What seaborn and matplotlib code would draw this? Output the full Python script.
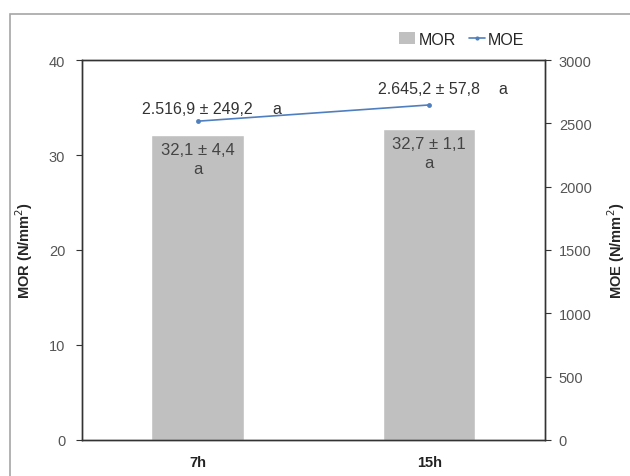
import matplotlib
matplotlib.use('Agg')
import matplotlib.pyplot as plt
import seaborn as sns
import pandas as pd
from matplotlib.patches import Rectangle, Patch
from matplotlib.lines import Line2D

# data
times = ['7h', '15h']
mor = [32.1, 32.7]
mor_labels = ['32,1 ± 4,4\na', '32,7 ± 1,1\na']
moe = [2516.9, 2645.2]
moe_labels = ['2.516,9 ± 249,2', '2.645,2 ± 57,8']
moe_letters = ['a', 'a']

sns.set_style('white')
plt.rcParams['font.family'] = ['Liberation Sans', 'DejaVu Sans']

df = pd.DataFrame({'time': times, 'MOR': mor, 'MOE': moe})

fig = plt.figure(figsize=(6.3, 4.77), dpi=100)
ax = fig.add_axes([0.130, 0.0755, 0.735, 0.7966])

sns.barplot(data=df, x='time', y='MOR', color='#c0c0c0', width=0.4,
            saturation=1, ax=ax)
ax.set_xlim(-0.5, 1.5)
ax.set_ylim(0, 40)
ax.set_yticks([0, 10, 20, 30, 40])
ax.set_xticks([-0.5, 0.5, 1.5])
ax.set_xticklabels(['', '', ''])
for i, t in enumerate(times):
    ax.text(i, -2.3, t, ha='center', va='center', fontsize=10.5, fontweight='bold',
            color='#222222')
ax.set_xlabel('')
ax.set_ylabel('MOR (N/mm$^2$)', fontsize=10.5, fontweight='bold', labelpad=10)
ax.tick_params(axis='y', direction='out', length=4, width=0.8, colors='#333333',
               labelsize=10.5, labelcolor='#555555', pad=8)
ax.tick_params(axis='x', direction='out', length=4, width=0.8, colors='#333333')
for sp in ax.spines.values():
    sp.set_color('#333333')
    sp.set_linewidth(1.0)
    sp.set_visible(True)

for i, (h, lab) in enumerate(zip(mor, mor_labels)):
    ax.text(i, h - 0.7, lab, ha='center', va='top', fontsize=12,
            color='#444444', linespacing=1.35)

ax2 = ax.twinx()
sns.lineplot(x=[0, 1], y=moe, ax=ax2, color='#4f7fbf', marker='o',
             markersize=3.5, markeredgewidth=0, linewidth=1.2)
ax2.set_ylim(0, 3000)
ax2.set_yticks(range(0, 3001, 500))
ax2.set_ylabel('MOE (N/mm$^2$)', fontsize=10.5, fontweight='bold', labelpad=10)
ax2.tick_params(axis='y', direction='out', length=4, width=0.8, colors='#333333',
                labelsize=10.5, labelcolor='#555555', pad=6)
for sp in ax2.spines.values():
    sp.set_color('#333333')
    sp.set_linewidth(1.0)

let_x = [0.342, 1.318]
lab_y = [2621, 2779]
for i in range(len(moe)):
    ax2.text(i, lab_y[i], moe_labels[i], ha='center', va='center',
             fontsize=11.5, color='#333333')
    ax2.text(let_x[i], lab_y[i], moe_letters[i], ha='center', va='center',
             fontsize=11.5, color='#333333')

handles = [Patch(facecolor='#c0c0c0', edgecolor='none'),
           Line2D([0], [0], color='#4f7fbf', marker='o', markersize=3,
                  markeredgewidth=0, linewidth=1.2)]
fig.legend(handles, ['MOR', 'MOE'], loc='center', bbox_to_anchor=(0.733, 0.916),
           ncol=2, frameon=False, fontsize=11.5, handlelength=1.0,
           handletextpad=0.2, columnspacing=0.8, handleheight=0.7)

fig.patches.append(Rectangle((10 / 630, -0.05), 1.0, 1 - 15 / 477 + 0.05,
                             transform=fig.transFigure, fill=False,
                             edgecolor='#a6a6a6', linewidth=1.2))

fig.savefig('out.png', dpi=100)
